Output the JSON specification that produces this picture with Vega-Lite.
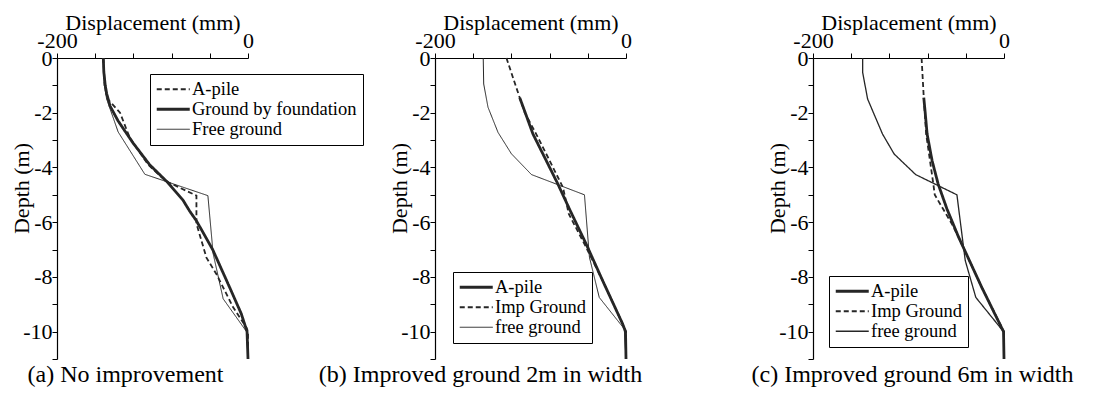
{
  "$schema": "https://vega.github.io/schema/vega-lite/v6.json",
  "background": "white",
  "padding": {"left": 10, "top": 11, "right": 5, "bottom": 2},
  "config": {
    "font": "Liberation Serif",
    "view": {"stroke": null},
    "axis": {"grid": false, "domainColor": "black", "tickColor": "black", "labelColor": "black", "titleColor": "black", "labelFont": "Liberation Serif", "titleFont": "Liberation Serif", "labelFontSize": 22, "titleFontSize": 22, "titleFontWeight": "normal", "tickSize": 5, "domainWidth": 1.2, "tickWidth": 1, "labelFlush": false, "labelOverlap": false},
    "legend": {"labelFont": "Liberation Serif", "labelFontSize": 18.5, "labelColor": "black", "labelLimit": 0, "symbolType": "M-3,0H3", "symbolSize": 121, "symbolStrokeColor": "#262626", "symbolFillColor": "transparent", "strokeColor": "black", "fillColor": "white", "padding": 6, "symbolOffset": 8, "labelOffset": 9.5, "rowPadding": 1},
    "concat": {"spacing": 187},
    "title": {"font": "Liberation Serif", "fontSize": 24, "fontWeight": "normal", "color": "black"}
  },
  "bounds": "flush",
  "datasets": {
    "a": [
      {"series": "A-pile", "depth": 0, "disp": -151.5},
      {"series": "A-pile", "depth": -1.0, "disp": -150},
      {"series": "A-pile", "depth": -1.5, "disp": -147},
      {"series": "A-pile", "depth": -2.0, "disp": -134},
      {"series": "A-pile", "depth": -2.9, "disp": -124},
      {"series": "A-pile", "depth": -3.9, "disp": -104.5},
      {"series": "A-pile", "depth": -4.5, "disp": -86},
      {"series": "A-pile", "depth": -5.03, "disp": -54},
      {"series": "A-pile", "depth": -6.05, "disp": -54},
      {"series": "A-pile", "depth": -7.3, "disp": -43.5},
      {"series": "A-pile", "depth": -7.9, "disp": -33},
      {"series": "A-pile", "depth": -9.1, "disp": -15.7},
      {"series": "A-pile", "depth": -9.85, "disp": -1.7},
      {"series": "A-pile", "depth": -10, "disp": 0},
      {"series": "A-pile", "depth": -11, "disp": 0},
      {"series": "Ground by foundation", "depth": 0, "disp": -151.5},
      {"series": "Ground by foundation", "depth": -0.5, "disp": -151},
      {"series": "Ground by foundation", "depth": -1.0, "disp": -149.5},
      {"series": "Ground by foundation", "depth": -1.3, "disp": -148},
      {"series": "Ground by foundation", "depth": -1.75, "disp": -144.5},
      {"series": "Ground by foundation", "depth": -2.3, "disp": -136},
      {"series": "Ground by foundation", "depth": -3.1, "disp": -120.5},
      {"series": "Ground by foundation", "depth": -3.9, "disp": -103},
      {"series": "Ground by foundation", "depth": -4.55, "disp": -84},
      {"series": "Ground by foundation", "depth": -5.2, "disp": -68},
      {"series": "Ground by foundation", "depth": -5.6, "disp": -61},
      {"series": "Ground by foundation", "depth": -5.95, "disp": -54},
      {"series": "Ground by foundation", "depth": -7.0, "disp": -37},
      {"series": "Ground by foundation", "depth": -8.4, "disp": -19},
      {"series": "Ground by foundation", "depth": -9.35, "disp": -7},
      {"series": "Ground by foundation", "depth": -10, "disp": -1},
      {"series": "Ground by foundation", "depth": -11, "disp": 0},
      {"series": "Free ground", "depth": 0, "disp": -151.5},
      {"series": "Free ground", "depth": -1.0, "disp": -150.5},
      {"series": "Free ground", "depth": -1.5, "disp": -148},
      {"series": "Free ground", "depth": -2.7, "disp": -136},
      {"series": "Free ground", "depth": -4.25, "disp": -108},
      {"series": "Free ground", "depth": -5.03, "disp": -42},
      {"series": "Free ground", "depth": -7.15, "disp": -36.5},
      {"series": "Free ground", "depth": -8.8, "disp": -26},
      {"series": "Free ground", "depth": -10, "disp": -1.5},
      {"series": "Free ground", "depth": -11, "disp": 0}
    ],
    "b": [
      {"series": "A-pile", "depth": -1.45, "disp": -111.3},
      {"series": "A-pile", "depth": -2.0, "disp": -105.5},
      {"series": "A-pile", "depth": -2.78, "disp": -97.4},
      {"series": "A-pile", "depth": -3.75, "disp": -83.5},
      {"series": "A-pile", "depth": -4.6, "disp": -71.4},
      {"series": "A-pile", "depth": -5.52, "disp": -59.2},
      {"series": "A-pile", "depth": -6.8, "disp": -41.7},
      {"series": "A-pile", "depth": -8.14, "disp": -24.4},
      {"series": "A-pile", "depth": -9.72, "disp": -3.5},
      {"series": "A-pile", "depth": -10, "disp": -0.5},
      {"series": "A-pile", "depth": -11, "disp": 0},
      {"series": "Imp Ground", "depth": 0, "disp": -125.2},
      {"series": "Imp Ground", "depth": -1.45, "disp": -111.3},
      {"series": "Imp Ground", "depth": -2.0, "disp": -106},
      {"series": "Imp Ground", "depth": -2.78, "disp": -94},
      {"series": "Imp Ground", "depth": -3.75, "disp": -80},
      {"series": "Imp Ground", "depth": -4.73, "disp": -66},
      {"series": "Imp Ground", "depth": -5.7, "disp": -59.9},
      {"series": "Imp Ground", "depth": -6.92, "disp": -41.7},
      {"series": "Imp Ground", "depth": -8.14, "disp": -24.4},
      {"series": "Imp Ground", "depth": -9.72, "disp": -3.5},
      {"series": "Imp Ground", "depth": -10, "disp": 0},
      {"series": "Imp Ground", "depth": -11, "disp": 0},
      {"series": "free ground", "depth": 0, "disp": -149.5},
      {"series": "free ground", "depth": -0.95, "disp": -149},
      {"series": "free ground", "depth": -1.8, "disp": -144.5},
      {"series": "free ground", "depth": -2.72, "disp": -134},
      {"series": "free ground", "depth": -3.5, "disp": -120},
      {"series": "free ground", "depth": -4.26, "disp": -99},
      {"series": "free ground", "depth": -5.0, "disp": -43.5},
      {"series": "free ground", "depth": -7.28, "disp": -38.3},
      {"series": "free ground", "depth": -8.75, "disp": -28},
      {"series": "free ground", "depth": -9.9, "disp": -1.8},
      {"series": "free ground", "depth": -11, "disp": 0}
    ],
    "c": [
      {"series": "A-pile", "depth": -1.45, "disp": -84},
      {"series": "A-pile", "depth": -2.0, "disp": -82.5},
      {"series": "A-pile", "depth": -2.78, "disp": -80.5},
      {"series": "A-pile", "depth": -3.75, "disp": -75.3},
      {"series": "A-pile", "depth": -4.6, "disp": -69},
      {"series": "A-pile", "depth": -5.52, "disp": -59.7},
      {"series": "A-pile", "depth": -6.55, "disp": -47.5},
      {"series": "A-pile", "depth": -8.38, "disp": -23.3},
      {"series": "A-pile", "depth": -10, "disp": -0.5},
      {"series": "A-pile", "depth": -11, "disp": 0},
      {"series": "Imp Ground", "depth": 0, "disp": -86.3},
      {"series": "Imp Ground", "depth": -1.45, "disp": -84},
      {"series": "Imp Ground", "depth": -2.78, "disp": -81.5},
      {"series": "Imp Ground", "depth": -3.75, "disp": -77.5},
      {"series": "Imp Ground", "depth": -4.6, "disp": -74},
      {"series": "Imp Ground", "depth": -5.0, "disp": -72.5},
      {"series": "Imp Ground", "depth": -6.07, "disp": -54.5},
      {"series": "Imp Ground", "depth": -6.55, "disp": -47.5},
      {"series": "Imp Ground", "depth": -8.38, "disp": -23.3},
      {"series": "Imp Ground", "depth": -10, "disp": 0},
      {"series": "Imp Ground", "depth": -11, "disp": 0},
      {"series": "free ground", "depth": 0, "disp": -148},
      {"series": "free ground", "depth": -0.53, "disp": -148},
      {"series": "free ground", "depth": -1.5, "disp": -142.8},
      {"series": "free ground", "depth": -2.78, "disp": -127.2},
      {"series": "free ground", "depth": -3.51, "disp": -115},
      {"series": "free ground", "depth": -4.26, "disp": -92.5},
      {"series": "free ground", "depth": -5.0, "disp": -49.3},
      {"series": "free ground", "depth": -7.4, "disp": -40.6},
      {"series": "free ground", "depth": -8.75, "disp": -29.5},
      {"series": "free ground", "depth": -10, "disp": -0.5},
      {"series": "free ground", "depth": -11, "disp": 0}
    ]
  },
  "resolve": {"scale": {"strokeDash": "independent", "strokeWidth": "independent"}, "legend": {"strokeDash": "independent", "strokeWidth": "independent"}},
  "hconcat": [
    {
      "width": 191, "height": 301,
      "title": {"text": "(a) No improvement", "orient": "bottom", "anchor": "middle", "frame": "group", "dx": -27, "offset": -7},
      "data": {"name": "a"},
      "mark": {"type": "line", "color": "#262626", "strokeCap": "butt"},
      "encoding": {
        "x": {"field": "disp", "type": "quantitative", "scale": {"domain": [-200, 0], "nice": false, "zero": false},
          "axis": {"orient": "top", "title": "Displacement (mm)", "values": [-200, -160, -120, -80, -40, 0], "labelExpr": "datum.value == -200 || datum.value == 0 ? '' + datum.value : ''", "labelPadding": 1, "titleY": -29, "titleBaseline": "alphabetic"}},
        "y": {"field": "depth", "type": "quantitative", "scale": {"domain": [-11, 0], "nice": false, "zero": false},
          "axis": {"title": "Depth (m)", "values": [0, -1, -2, -3, -4, -5, -6, -7, -8, -9, -10, -11], "labelExpr": "datum.value % 2 == 0 ? '' + datum.value : ''", "labelPadding": 0, "titleX": -36, "titleY": 130, "titleAlign": "center", "titleBaseline": "middle", "titleAngle": -90}},
        "order": {"field": "depth", "sort": "descending"},
        "strokeDash": {"field": "series", "type": "nominal",
          "scale": {"domain": ["A-pile", "Ground by foundation", "Free ground"], "range": [[5, 3], [1, 0], [1, 0]]},
          "legend": {"orient": "none", "legendX": 93, "legendY": 16, "title": null, "symbolStrokeWidth": 2,
            "encode": {"symbols": {"update": {"strokeWidth": {"value": 2}}}}}},
        "strokeWidth": {"field": "series", "type": "nominal",
          "scale": {"type": "ordinal", "domain": ["A-pile", "Ground by foundation", "Free ground"], "range": [1.8, 2.8, 1]}, "legend": null}
      }
    },
    {
      "width": 191, "height": 301,
      "title": {"text": "(b) Improved ground 2m in width", "orient": "bottom", "anchor": "middle", "frame": "group", "dx": -50, "offset": -7},
      "data": {"name": "b"},
      "mark": {"type": "line", "color": "#262626", "strokeCap": "butt"},
      "encoding": {
        "x": {"field": "disp", "type": "quantitative", "scale": {"domain": [-200, 0], "nice": false, "zero": false},
          "axis": {"orient": "top", "title": "Displacement (mm)", "values": [-200, -160, -120, -80, -40, 0], "labelExpr": "datum.value == -200 || datum.value == 0 ? '' + datum.value : ''", "labelPadding": 1, "titleY": -29, "titleBaseline": "alphabetic"}},
        "y": {"field": "depth", "type": "quantitative", "scale": {"domain": [-11, 0], "nice": false, "zero": false},
          "axis": {"title": "Depth (m)", "values": [0, -1, -2, -3, -4, -5, -6, -7, -8, -9, -10, -11], "labelExpr": "datum.value % 2 == 0 ? '' + datum.value : ''", "labelPadding": 0, "titleX": -36, "titleY": 130, "titleAlign": "center", "titleBaseline": "middle", "titleAngle": -90}},
        "order": {"field": "depth", "sort": "descending"},
        "strokeDash": {"field": "series", "type": "nominal",
          "scale": {"domain": ["A-pile", "Imp Ground", "free ground"], "range": [[1, 0], [5, 3], [1, 0]]},
          "legend": {"orient": "none", "legendX": 18, "legendY": 214, "title": null}},
        "strokeWidth": {"field": "series", "type": "nominal",
          "scale": {"type": "ordinal", "domain": ["A-pile", "Imp Ground", "free ground"], "range": [2.8, 1.8, 1]},
          "legend": {"orient": "none", "legendX": 18, "legendY": 214, "title": null}}
      }
    },
    {
      "width": 191, "height": 301,
      "title": {"text": "(c) Improved ground 6m in width", "orient": "bottom", "anchor": "middle", "frame": "group", "dx": 4, "offset": -7},
      "data": {"name": "c"},
      "mark": {"type": "line", "color": "#262626", "strokeCap": "butt"},
      "encoding": {
        "x": {"field": "disp", "type": "quantitative", "scale": {"domain": [-200, 0], "nice": false, "zero": false},
          "axis": {"orient": "top", "title": "Displacement (mm)", "values": [-200, -160, -120, -80, -40, 0], "labelExpr": "datum.value == -200 || datum.value == 0 ? '' + datum.value : ''", "labelPadding": 1, "titleY": -29, "titleBaseline": "alphabetic"}},
        "y": {"field": "depth", "type": "quantitative", "scale": {"domain": [-11, 0], "nice": false, "zero": false},
          "axis": {"title": "Depth (m)", "values": [0, -1, -2, -3, -4, -5, -6, -7, -8, -9, -10, -11], "labelExpr": "datum.value % 2 == 0 ? '' + datum.value : ''", "labelPadding": 0, "titleX": -36, "titleY": 130, "titleAlign": "center", "titleBaseline": "middle", "titleAngle": -90}},
        "order": {"field": "depth", "sort": "descending"},
        "strokeDash": {"field": "series", "type": "nominal",
          "scale": {"domain": ["A-pile", "Imp Ground", "free ground"], "range": [[1, 0], [5, 3], [1, 0]]},
          "legend": {"orient": "none", "legendX": 16, "legendY": 218, "title": null}},
        "strokeWidth": {"field": "series", "type": "nominal",
          "scale": {"type": "ordinal", "domain": ["A-pile", "Imp Ground", "free ground"], "range": [2.8, 1.8, 1.3]},
          "legend": {"orient": "none", "legendX": 16, "legendY": 218, "title": null}}
      }
    }
  ]
}
